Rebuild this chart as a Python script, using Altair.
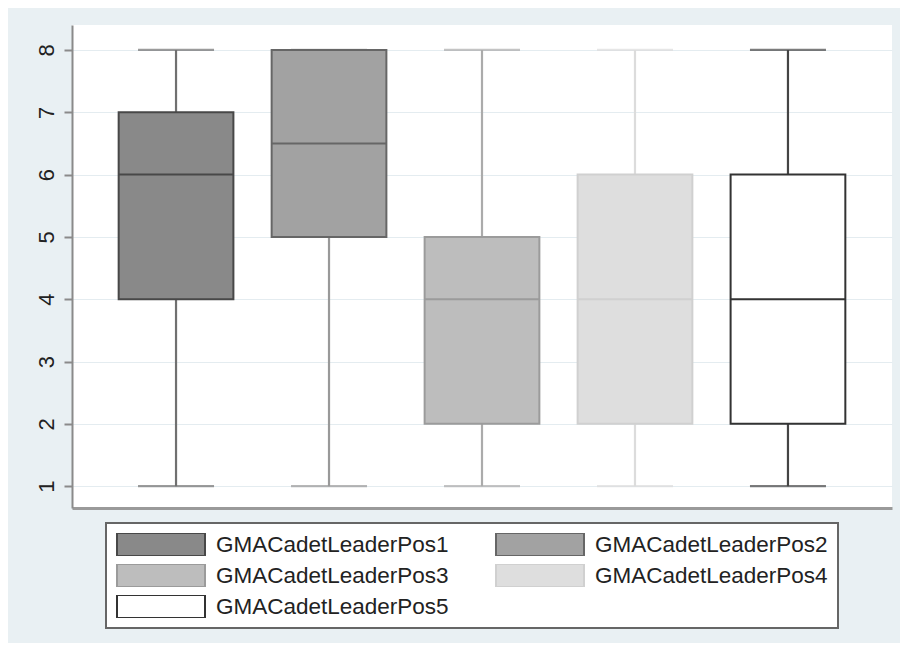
import altair as alt
import pandas as pd

categories = ["GMACadetLeaderPos1", "GMACadetLeaderPos2", "GMACadetLeaderPos3",
              "GMACadetLeaderPos4", "GMACadetLeaderPos5"]
mins = [1, 1, 1, 1, 1]
q1s = [4, 5, 2, 2, 2]
medians = [6, 6.5, 4, 4, 4]
q3s = [7, 8, 5, 6, 6]
maxs = [8, 8, 8, 8, 8]
y_ticks = [1, 2, 3, 4, 5, 6, 7, 8]

fill_colors = ["#898989", "#a2a2a2", "#bdbdbd", "#dedede", "#ffffff"]
outline_colors = ["#484848", "#666666", "#9b9b9b", "#d0d0d0", "#333333"]
whisker_colors = ["#707070", "#999999", "#ababab", "#dcdcdc", "#444444"]

# the legend grid is filled column by column; this order makes it read row by row
legend_order = [0, 2, 4, 1, 3]
leg_domain = [categories[i] for i in legend_order]
leg_fill = [fill_colors[i] for i in legend_order]
leg_stroke = [outline_colors[i] for i in legend_order]

df = pd.DataFrame({"cat": categories, "lo": mins, "q1": q1s, "med": medians,
                   "q3": q3s, "hi": maxs})

FONT = "Liberation Sans"

x_enc = alt.X("cat:N", sort=categories,
              scale=alt.Scale(paddingInner=0.25, paddingOuter=0.305),
              axis=alt.Axis(labels=False, ticks=False, title=None, grid=False,
                            domainColor="#9a9a9a", domainWidth=3))
y_scale = alt.Scale(domain=[0.65, 8.40], nice=False, zero=False)
y_axis = alt.Axis(values=y_ticks, labelAngle=270, labelAlign="center",
                  labelBaseline="alphabetic", labelFontSize=22, labelFont=FONT,
                  labelColor="#222222", labelPadding=11, tickSize=8,
                  tickColor="#8a8a8a", tickWidth=2, domainColor="#8a8a8a",
                  domainWidth=2, grid=True, gridColor="#e4ecf0", gridWidth=1,
                  title=None)

# whisker colour scale: data-derived domain (so its hidden legend is not merged
# with the fill/stroke legend)
whisk_color = alt.Color("cat:N", sort=categories,
                        scale=alt.Scale(range=whisker_colors),
                        legend=None)
leg = alt.Legend(title=None, orient="none", legendX=34, legendY=498, columns=2)
fill_enc = alt.Fill("cat:N",
                    scale=alt.Scale(domain=leg_domain, range=leg_fill), legend=leg)
stroke_enc = alt.Stroke("cat:N",
                        scale=alt.Scale(domain=leg_domain, range=leg_stroke), legend=leg)

base = alt.Chart(df)

whiskers = base.mark_rule(strokeWidth=2.2).encode(
    x=x_enc, y=alt.Y("lo:Q", scale=y_scale, axis=y_axis), y2="hi:Q", color=whisk_color)
caps_lo = base.mark_tick(size=76, thickness=2.2, orient="horizontal").encode(
    x=x_enc, y=alt.Y("lo:Q", scale=y_scale, axis=y_axis), color=whisk_color)
caps_hi = base.mark_tick(size=76, thickness=2.2, orient="horizontal").encode(
    x=x_enc, y=alt.Y("hi:Q", scale=y_scale, axis=y_axis), color=whisk_color)
boxes = base.mark_bar(strokeWidth=2).encode(
    x=x_enc, y=alt.Y("q1:Q", scale=y_scale, axis=y_axis), y2="q3:Q",
    fill=fill_enc, stroke=stroke_enc)
med = base.mark_bar(strokeWidth=2).encode(
    x=x_enc, y=alt.Y("med:Q", scale=y_scale, axis=y_axis), y2="med:Q",
    fill=fill_enc, stroke=stroke_enc)

chart = alt.layer(whiskers, caps_lo, caps_hi, boxes, med).properties(
    width=820, height=483,
    padding={"left": 64, "top": 17, "right": 8, "bottom": 135},
    autosize=alt.AutoSizeParams(type="none"),
    background="#e9f0f3",
).configure_view(
    fill="#ffffff", stroke=None
).configure_legend(
    symbolType="M-1,-0.26H1V0.26H-1Z", symbolSize=7744, symbolStrokeWidth=2,
    clipHeight=23, rowPadding=8, columnPadding=46, labelOffset=10,
    labelFontSize=22.5, labelFont=FONT, labelColor="#222222", labelLimit=500,
    padding=10, strokeColor="#666666", fillColor="#ffffff", cornerRadius=0,
    strokeWidth=2
)

chart.save("out.html", embed_options={"renderer": "svg", "actions": False})
